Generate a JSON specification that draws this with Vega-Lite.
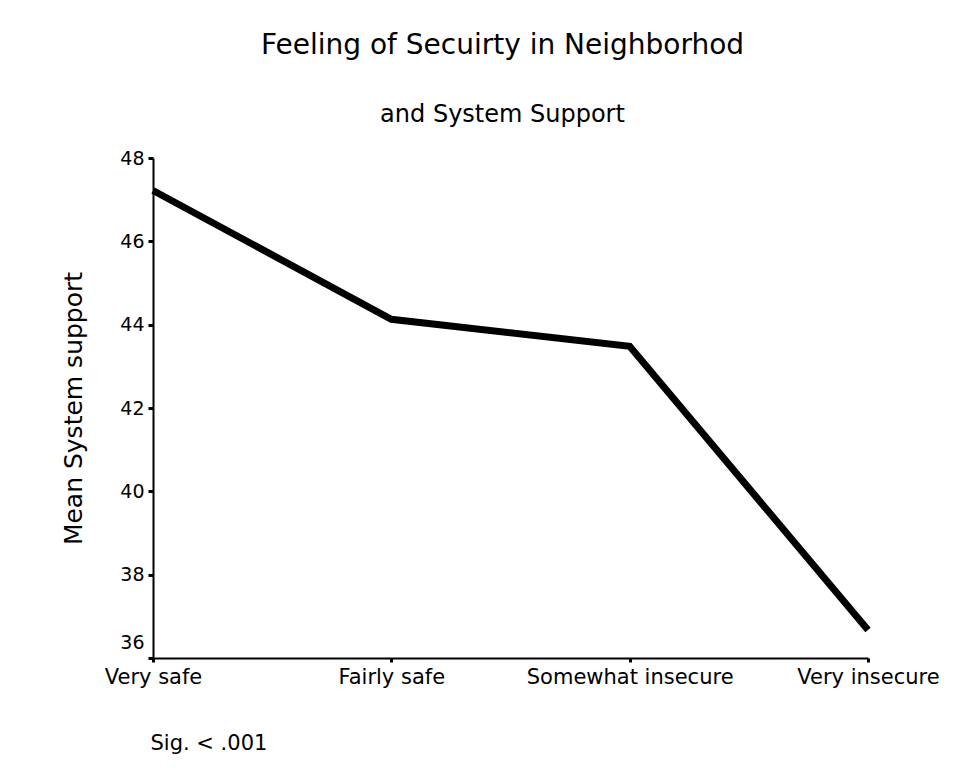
{
  "$schema": "https://vega.github.io/schema/vega-lite/v6.json",
  "width": 715,
  "height": 500,
  "autosize": {"type": "none"},
  "padding": {"left": 153, "top": 158, "right": 108, "bottom": 121},
  "background": "white",
  "title": {
    "text": "Feeling of Secuirty in Neighborhod",
    "subtitle": "and System Support",
    "anchor": "middle",
    "frame": "group",
    "font": "DejaVu Sans",
    "fontSize": 28,
    "fontWeight": "normal",
    "color": "black",
    "subtitleFont": "DejaVu Sans",
    "subtitleFontSize": 24,
    "subtitleColor": "black",
    "subtitlePadding": 43,
    "offset": 22,
    "dx": -8
  },
  "data": {
    "values": [
      {"security": "Very safe", "order": 1, "mean": 47.22},
      {"security": "Fairly safe", "order": 2, "mean": 44.13},
      {"security": "Somewhat insecure", "order": 3, "mean": 43.48},
      {"security": "Very insecure", "order": 4, "mean": 36.67}
    ]
  },
  "mark": {"type": "line", "color": "black", "strokeWidth": 7},
  "encoding": {
    "x": {
      "field": "security",
      "type": "ordinal",
      "sort": {"field": "order"},
      "scale": {"type": "point", "padding": 0},
      "axis": {
        "title": "Sig. < .001",
        "titleFont": "DejaVu Sans",
        "titleFontSize": 21,
        "titleFontWeight": "normal",
        "titleColor": "black",
        "titleAnchor": "start",
        "titleAlign": "left",
        "titleX": -3,
        "titlePadding": 45,
        "labelFont": "DejaVu Sans",
        "labelFontSize": 21,
        "labelColor": "black",
        "labelAngle": 0,
        "labelPadding": 4,
        "labelLimit": 0,
        "tickSize": 4,
        "tickWidth": 3,
        "tickColor": "black",
        "domainColor": "black",
        "domainWidth": 2,
        "grid": false
      }
    },
    "y": {
      "field": "mean",
      "type": "quantitative",
      "scale": {"domain": [36, 48], "nice": false, "zero": false},
      "axis": {
        "title": "Mean System support",
        "titleFont": "DejaVu Sans",
        "titleFontSize": 25,
        "titleFontWeight": "normal",
        "titleColor": "black",
        "titlePadding": 33,
        "values": [36, 38, 40, 42, 44, 46, 48],
        "labelFont": "DejaVu Sans",
        "labelFontSize": 19,
        "labelColor": "black",
        "labelPadding": 4,
        "labelOffset": {"condition": {"test": "datum.value == 36", "value": -16}, "value": 0},
        "tickSize": 5,
        "tickWidth": 3,
        "tickColor": "black",
        "domainColor": "black",
        "domainWidth": 2,
        "grid": false
      }
    }
  },
  "config": {"view": {"stroke": null}}
}
